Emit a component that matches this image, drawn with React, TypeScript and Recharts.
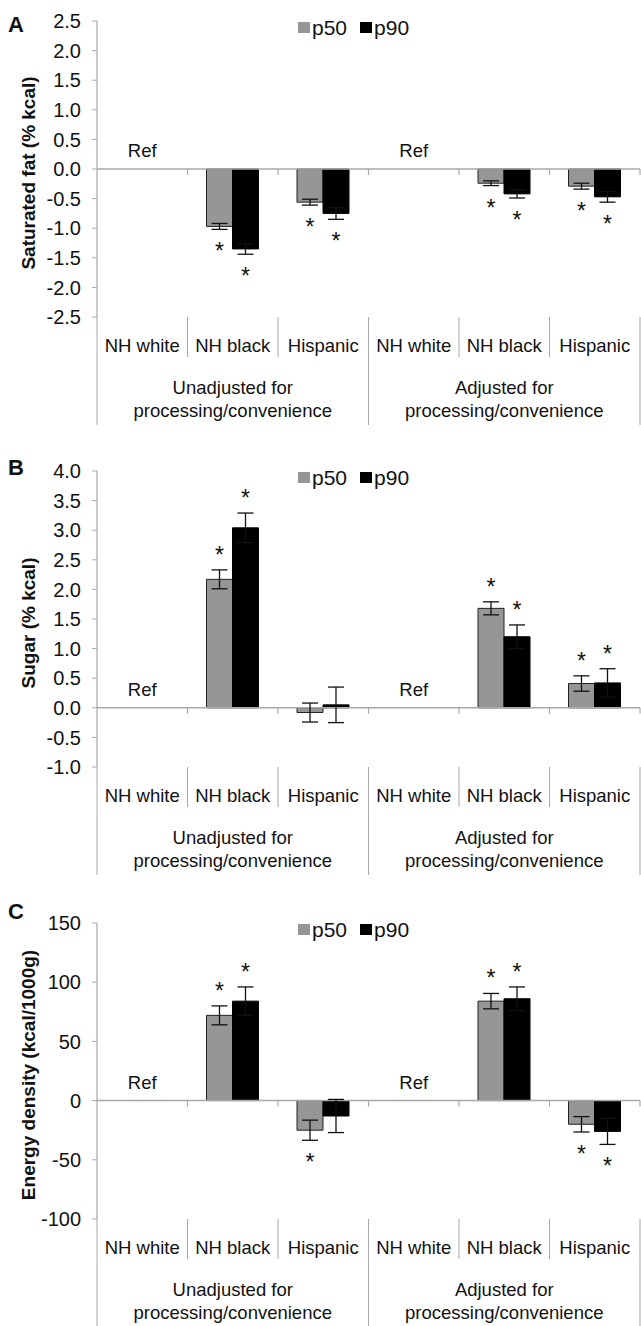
import React from "react";
import {
  BarChart,
  Bar,
  XAxis,
  YAxis,
  ErrorBar,
  LabelList,
  Legend,
  ReferenceLine,
  ReferenceDot,
} from "recharts";

const FONT = '"Liberation Sans", Arial, Helvetica, sans-serif';

const categories = ["NH white", "NH black", "Hispanic", "NH white", "NH black", "Hispanic"];
const groupLabels = [
  ["Unadjusted for", "processing/convenience"],
  ["Adjusted for", "processing/convenience"],
];
const refFlags = [true, false, false, true, false, false];
const seriesNames = ["p50", "p90"];
const seriesColors = ["#969696", "#000000"];

// A: saturated fat
const satFatP50 = [0, -0.97, -0.56, 0, -0.24, -0.29];
const satFatP50Err = [null, 0.05, 0.05, null, 0.04, 0.05];
const satFatP90 = [0, -1.35, -0.75, 0, -0.42, -0.47];
const satFatP90Err = [null, 0.09, 0.1, null, 0.07, 0.09];
const satFatP50Star = [0, 1, 1, 0, 1, 1];
const satFatP90Star = [0, 1, 1, 0, 1, 1];
const satFatTicks = [-2.5, -2, -1.5, -1, -0.5, 0, 0.5, 1, 1.5, 2, 2.5];

// B: sugar
const sugarP50 = [0, 2.17, -0.08, 0, 1.68, 0.41];
const sugarP50Err = [null, 0.16, 0.16, null, 0.11, 0.13];
const sugarP90 = [0, 3.04, 0.05, 0, 1.2, 0.42];
const sugarP90Err = [null, 0.25, 0.3, null, 0.2, 0.24];
const sugarP50Star = [0, 1, 0, 0, 1, 1];
const sugarP90Star = [0, 1, 0, 0, 1, 1];
const sugarTicks = [-1, -0.5, 0, 0.5, 1, 1.5, 2, 2.5, 3, 3.5, 4];

// C: energy density
const energyP50 = [0, 72, -25, 0, 84, -20];
const energyP50Err = [null, 8, 8.5, null, 6.5, 6.5];
const energyP90 = [0, 84, -13, 0, 86, -26];
const energyP90Err = [null, 12, 14, null, 10, 11];
const energyP50Star = [0, 1, 1, 0, 1, 1];
const energyP90Star = [0, 1, 0, 0, 1, 1];
const energyTicks = [-100, -50, 0, 50, 100, 150];

const CHART_W = 641;
const Y_AXIS_W = 97;
const MARGIN_RIGHT = 1;
const PLOT_TOP = 21;
const PLOT_H = 296;
const PLOT_W = CHART_W - Y_AXIS_W - MARGIN_RIGHT;
const AXIS = "#a8a8a8";

function CategoryTick(props: any) {
  const { x, y, index } = props;
  const half = PLOT_W / categories.length / 2;
  const lastOfGroup = index % 3 === 2;
  const middle = index % 3 === 1;
  const group = groupLabels[Math.floor(index / 3)];
  return (
    <g>
      <text x={x} y={y + 35} textAnchor="middle" fontSize={18.5} fontFamily={FONT} fill="#111">
        {categories[index]}
      </text>
      {index === 0 && (
        <line x1={x - half} x2={x - half} y1={y} y2={y + 108} stroke={AXIS} strokeWidth={1} />
      )}
      <line
        x1={x + half}
        x2={x + half}
        y1={y}
        y2={y + (lastOfGroup ? 108 : 40)}
        stroke={AXIS}
        strokeWidth={1}
      />
      {middle && (
        <text x={x} textAnchor="middle" fontSize={18.5} fontFamily={FONT} fill="#111">
          <tspan x={x} y={y + 77}>{group[0]}</tspan>
          <tspan x={x} y={y + 100}>{group[1]}</tspan>
        </text>
      )}
    </g>
  );
}

function ZeroLine(props: any) {
  const { x1, x2, y1 } = props;
  const n = categories.length;
  const step = (x2 - x1) / n;
  return (
    <g>
      <line x1={x1} x2={x2} y1={y1} y2={y1} stroke={AXIS} strokeWidth={1.5} />
      {categories.map((_, i) => (
        <line
          key={i}
          x1={x1 + step * (i + 1)}
          x2={x1 + step * (i + 1)}
          y1={y1}
          y2={y1 + 6}
          stroke={AXIS}
          strokeWidth={1.2}
        />
      ))}
    </g>
  );
}

function RefText(props: any) {
  const { cx, cy } = props;
  if (cx == null || cy == null) return null;
  return (
    <text x={cx} y={cy - 12} textAnchor="middle" fontSize={18.5} fontFamily={FONT} fill="#111">
      Ref
    </text>
  );
}

// star above / below the error bar end; the label value is the row index
function makeStars(values: number[], errs: (number | null)[], stars: number[]) {
  return (p: any) => {
    const i = Number(p.value);
    if (!Number.isFinite(i)) return null;
    const vb = p.viewBox ?? p;
    const x = Number(vb.x ?? p.x);
    const y = Number(vb.y ?? p.y);
    const w = Number(vb.width ?? p.width);
    const h = Number(vb.height ?? p.height);
    const v = values[i];
    if (!stars[i] || !v) return null;
    const ppu = Math.abs(h) / Math.abs(v);
    const end = v >= 0 ? Math.min(y, y + h) : Math.max(y, y + h);
    const errPx = (errs[i] ?? 0) * ppu;
    const cy = v >= 0 ? end - errPx - 20 : end + errPx + 17;
    return (
      <text x={x + w / 2} y={cy + 13} textAnchor="middle" fontSize={23} fontFamily={FONT} fill="#111">
        *
      </text>
    );
  };
}

function renderLegend() {
  return (
    <div style={{ display: "flex", alignItems: "center", fontFamily: FONT, fontSize: 21, lineHeight: "21px", color: "#111" }}>
      {seriesNames.map((name, i) => (
        <div key={name} style={{ display: "flex", alignItems: "center", marginLeft: i > 0 ? 13 : 0 }}>
          <span
            style={{ width: 12, height: 11, background: seriesColors[i], display: "inline-block", marginRight: 2, flexShrink: 0 }}
          />
          <span style={{ whiteSpace: "nowrap" }}>{name}</span>
        </div>
      ))}
    </div>
  );
}

interface PanelProps {
  top: number;
  height: number;
  letter: string;
  letterBaseline: number;
  title: string;
  ticks: number[];
  decimals: number;
  p50: number[];
  p50Err: (number | null)[];
  p90: number[];
  p90Err: (number | null)[];
  p50Star: number[];
  p90Star: number[];
}

function Panel(props: PanelProps) {
  const { top, height, letter, letterBaseline, title, ticks, decimals } = props;
  const rows = categories.map((c, i) => ({
    key: String(i),
    name: c,
    p50: props.p50[i],
    p50Err: props.p50Err[i],
    p90: props.p90[i],
    p90Err: props.p90Err[i],
  }));
  const xAxisH = height - PLOT_TOP - PLOT_H;
  const yTitle = (lp: any) => {
    const vb = lp.viewBox ?? { x: 0, y: PLOT_TOP, width: Y_AXIS_W, height: PLOT_H };
    const cx = vb.x + 28;
    const cy = vb.y + vb.height / 2 + 4;
    return (
      <text
        x={cx}
        y={cy}
        transform={`rotate(-90 ${cx} ${cy})`}
        textAnchor="middle"
        dominantBaseline="central"
        fontSize={19}
        fontWeight="bold"
        fontFamily={FONT}
        fill="#111"
      >
        {title}
      </text>
    );
  };
  return (
    <div style={{ position: "absolute", left: 0, top, width: CHART_W, height }}>
      <div
        style={{
          position: "absolute",
          left: 8,
          top: letterBaseline - 19,
          fontFamily: FONT,
          fontWeight: "bold",
          fontSize: 22,
          lineHeight: "22px",
          color: "#111",
        }}
      >
        {letter}
      </div>
      <BarChart
        width={CHART_W}
        height={height}
        data={rows}
        margin={{ top: PLOT_TOP, right: MARGIN_RIGHT, bottom: 0, left: 0 }}
        barGap={0}
        barSize={26}
      >
        <XAxis
          dataKey="key"
          axisLine={false}
          tickLine={false}
          tickSize={0}
          tickMargin={0}
          interval={0}
          height={xAxisH}
          tick={<CategoryTick />}
        />
        <YAxis
          width={Y_AXIS_W}
          domain={[ticks[0], ticks[ticks.length - 1]]}
          ticks={ticks}
          interval={0}
          allowDataOverflow
          axisLine={{ stroke: AXIS, strokeWidth: 1.2 }}
          tickLine={{ stroke: AXIS }}
          tickSize={5}
          tickMargin={11}
          tick={{ fontSize: 20, fill: "#111", fontFamily: FONT }}
          tickFormatter={(v: number) => v.toFixed(decimals)}
          label={{ content: yTitle }}
        />
        <ReferenceLine y={0} shape={<ZeroLine />} ifOverflow="visible" />
        {rows
          .filter((_, i) => refFlags[i])
          .map((r) => (
            <ReferenceDot key={r.key} x={r.key} y={0} r={0} shape={<RefText />} ifOverflow="visible" />
          ))}
        <Legend
          verticalAlign="middle"
          align="center"
          layout="horizontal"
          wrapperStyle={{ top: PLOT_TOP - 4, left: 298, width: 200 }}
          content={renderLegend}
        />
        <Bar dataKey="p50" name={seriesNames[0]} fill={seriesColors[0]} stroke="#222" strokeWidth={1} isAnimationActive={false}>
          <ErrorBar dataKey="p50Err" width={8} stroke="#111" strokeWidth={1.3} direction="y" />
          <LabelList dataKey="key" content={makeStars(props.p50, props.p50Err, props.p50Star)} />
        </Bar>
        <Bar dataKey="p90" name={seriesNames[1]} fill={seriesColors[1]} stroke="#000" strokeWidth={1} isAnimationActive={false}>
          <ErrorBar dataKey="p90Err" width={8} stroke="#111" strokeWidth={1.3} direction="y" />
          <LabelList dataKey="key" content={makeStars(props.p90, props.p90Err, props.p90Star)} />
        </Bar>
      </BarChart>
    </div>
  );
}

export default function App() {
  return (
    <div style={{ position: "absolute", left: 0, top: 0, width: CHART_W, height: 1326, background: "#fff" }}>
      <Panel
        top={0}
        height={450}
        letter="A"
        letterBaseline={33}
        title="Saturated fat (% kcal)"
        ticks={satFatTicks}
        decimals={1}
        p50={satFatP50}
        p50Err={satFatP50Err}
        p90={satFatP90}
        p90Err={satFatP90Err}
        p50Star={satFatP50Star}
        p90Star={satFatP90Star}
      />
      <Panel
        top={450}
        height={452}
        letter="B"
        letterBaseline={26}
        title="Sugar (% kcal)"
        ticks={sugarTicks}
        decimals={1}
        p50={sugarP50}
        p50Err={sugarP50Err}
        p90={sugarP90}
        p90Err={sugarP90Err}
        p50Star={sugarP50Star}
        p90Star={sugarP90Star}
      />
      <Panel
        top={902}
        height={424}
        letter="C"
        letterBaseline={18}
        title="Energy density (kcal/1000g)"
        ticks={energyTicks}
        decimals={0}
        p50={energyP50}
        p50Err={energyP50Err}
        p90={energyP90}
        p90Err={energyP90Err}
        p50Star={energyP50Star}
        p90Star={energyP90Star}
      />
    </div>
  );
}
